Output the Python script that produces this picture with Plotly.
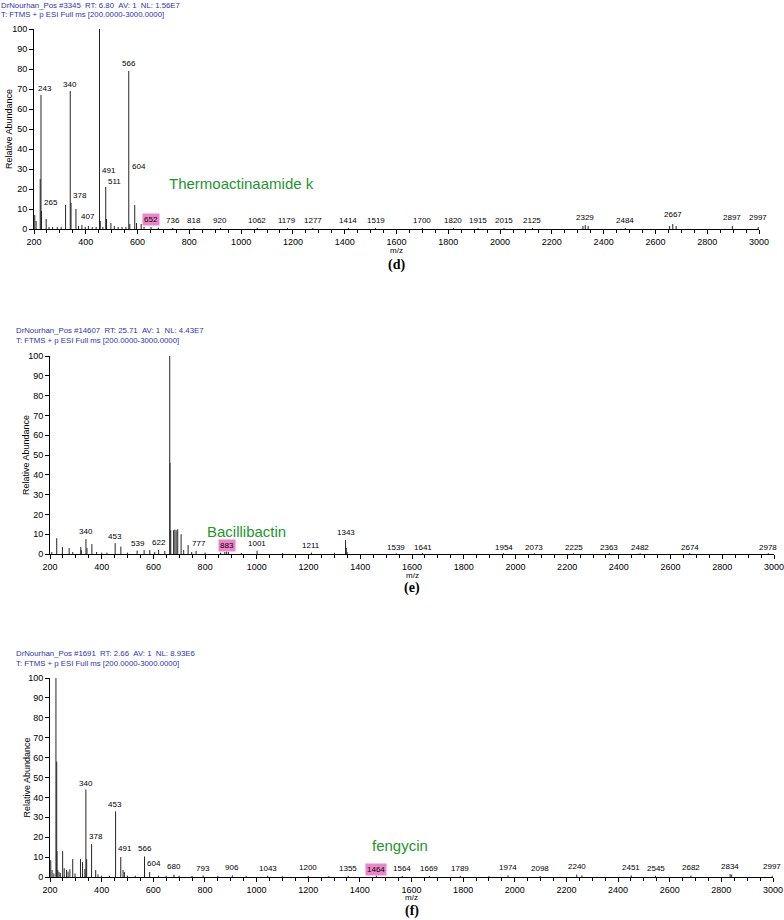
import plotly.graph_objects as go

W, H = 784, 920

# ---------------- data ----------------
# Panel (d)
d_mz = [203, 208, 224, 227, 229, 247, 258, 272, 290, 305, 322, 340, 343, 362, 372, 385, 398, 410, 425, 440,
        453, 456, 466, 477, 480, 497, 510, 525, 540, 555, 566, 570, 589, 596, 614, 625, 652, 680, 736, 818,
        920, 1062, 1179, 1277, 1414, 1519, 1700, 1820, 1915, 2015, 2125, 2320, 2329, 2340, 2484, 2655, 2667,
        2680, 2897, 2997]
d_int = [7, 4, 25, 67, 9, 5, 1, 1, 1, 1, 12, 69, 13, 10, 1.5, 2, 1, 1.5, 1, 1,
         100, 4, 1, 21, 5, 3, 1.5, 1, 1, 1, 79, 2.5, 12, 3, 2.5, 1, 1, 0.7, 0.5, 0.5,
         0.5, 0.5, 0.5, 0.5, 0.5, 0.5, 0.5, 0.5, 0.5, 0.5, 0.5, 1.5, 2, 1.5, 0.5, 1.5, 2.5,
         1.5, 1.5, 1]
d_labels = [243, 265, 340, 378, 407, 453, 491, 511, 566, 604, 652, 736, 818, 920, 1062, 1179, 1277, 1414,
            1519, 1700, 1820, 1915, 2015, 2125, 2329, 2484, 2667, 2897, 2997]
d_label_y = [67.5, 10.3, 69.5, 14, 3.5, 101, 26.5, 21, 80, 28.6, 1.5, 1.5, 1.5, 1.5, 1.5, 1.5, 1.5, 1.5,
             1.5, 1.5, 1.5, 1.5, 1.5, 1.5, 3, 1.5, 4.5, 3, 3]
d_highlight = 652
d_header = ["DrNourhan_Pos #3345\u00a0\u00a0RT: 6.80\u00a0\u00a0AV: 1\u00a0\u00a0NL: 1.56E7",
            "T: FTMS + p ESI Full ms [200.0000-3000.0000]"]
d_compound = ("Thermoactinaamide k", 713, 23)

# Panel (e)
e_mz = [207, 226, 248, 274, 288, 319, 321, 339, 343, 362, 380, 400, 420, 452, 474, 500, 537, 564, 586, 605,
        620, 644, 663, 664, 667, 678, 683, 688, 694, 707, 717, 734, 748, 765, 800, 860, 876, 883, 890, 940,
        1001, 1100, 1211, 1300, 1343, 1346, 1349, 1539, 1641, 1954, 2073, 2225, 2363, 2482, 2674, 2978]
e_int = [1, 8, 3.5, 3, 1, 3.5, 2, 7.5, 3, 5, 1, 0.7, 0.7, 5.5, 3.7, 0.7, 1.7, 2, 2, 1,
         2, 1.5, 100, 46, 12, 12, 12.3, 12, 12.5, 10, 2, 4.5, 1, 1.6, 0.7, 0.7, 1, 1.2, 1, 0.5,
         1.7, 0.5, 0.7, 0.6, 7, 3, 1, 0.4, 0.4, 0.4, 0.4, 0.4, 0.4, 0.4, 0.4, 0.4]
e_labels = [340, 453, 539, 622, 663, 777, 883, 1001, 1211, 1343, 1539, 1641, 1954, 2073, 2225, 2363,
            2482, 2674, 2978]
e_label_y = [8.4, 6, 2.4, 3, 101, 2.5, 1, 2.7, 1.7, 8, 0.5, 0.5, 0.5, 0.5, 0.5, 0.5, 0.5, 0.5, 0.5]
e_highlight = 883
e_header = ["DrNourhan_Pos #14607\u00a0\u00a0RT: 25.71\u00a0\u00a0AV: 1\u00a0\u00a0NL: 4.43E7",
            "T: FTMS + p ESI Full ms [200.0000-3000.0000]"]
e_compound = ("Bacillibactin", 798, 11.3)

# Panel (f)
f_mz = [203, 208, 215, 223, 226, 227, 230, 235, 240, 249, 255, 264, 270, 277, 288, 297, 318, 326, 335, 339,
        342, 361, 377, 386, 400, 430, 454, 474, 483, 488, 500, 530, 566, 586, 620, 650, 680, 700, 750, 793,
        850, 906, 960, 1043, 1100, 1200, 1280, 1355, 1464, 1564, 1669, 1789, 1900, 1974, 2098, 2240, 2260,
        2451, 2545, 2682, 2834, 2840, 2997]
f_int = [8.5, 3.5, 1.8, 100, 58, 13, 3.5, 2.5, 2, 13, 4.4, 3.5, 2.7, 3.9, 9, 1.8, 9, 7.5, 4, 44,
         9, 16.5, 3.5, 1.3, 0.7, 0.7, 33, 10, 3.5, 2.5, 0.7, 0.7, 10.3, 2.5, 0.7, 0.6, 1.2, 0.6, 0.5, 0.8,
         0.5, 0.8, 0.5, 0.6, 0.4, 0.6, 0.4, 0.6, 0.8, 0.5, 0.5, 0.6, 0.4, 0.8, 0.5, 1.2, 0.8,
         0.8, 0.6, 0.8, 1.5, 1.2, 0.6]
f_labels = [340, 378, 453, 491, 566, 604, 680, 793, 906, 1043, 1200, 1355, 1464, 1564, 1669, 1789, 1974,
            2098, 2240, 2451, 2545, 2682, 2834, 2997]
f_label_y = [44.4, 17.5, 33.8, 11.4, 11.4, 4.2, 2.7, 1.5, 1.8, 1.5, 1.8, 1.5, 0.5, 1.5, 1.5, 1.5, 2.2,
             1.5, 2.6, 2.2, 1.5, 1.8, 2.5, 2.6]
f_highlight = 1464
f_header = ["DrNourhan_Pos #1691\u00a0\u00a0RT: 2.66\u00a0\u00a0AV: 1\u00a0\u00a0NL: 8.93E6",
            "T: FTMS + p ESI Full ms [200.0000-3000.0000]"]
f_compound = ("fengycin", 1441, 15.7)

x_ticks = list(range(200, 3001, 200))
y_ticks = list(range(0, 101, 10))

# ---------------- layout geometry (pixels) ----------------
panels = [
    dict(mz=d_mz, it=d_int, lab=d_labels, laby=d_label_y, hl=d_highlight, header=d_header,
         comp=d_compound, letter="(d)", x0=34, x1=759, ybot=229, ytop=29, hx=0, hy=5,
         ytitle_x=9, mz_y=250, letter_y=265),
    dict(mz=e_mz, it=e_int, lab=e_labels, laby=e_label_y, hl=e_highlight, header=e_header,
         comp=e_compound, letter="(e)", x0=50, x1=774, ybot=554, ytop=356, hx=15, hy=330,
         ytitle_x=26, mz_y=575, letter_y=588),
    dict(mz=f_mz, it=f_int, lab=f_labels, laby=f_label_y, hl=f_highlight, header=f_header,
         comp=f_compound, letter="(f)", x0=50, x1=773, ybot=877, ytop=678, hx=15, hy=653,
         ytitle_x=26, mz_y=897, letter_y=911),
]

FONT = "Liberation Sans, Arial, sans-serif"
BLUE = "#3030b8"
GREEN = "#22962e"
PINK = "#ee84c8"

fig = go.Figure()
annotations = []
layout_axes = {}

for i, p in enumerate(panels):
    n = "" if i == 0 else str(i + 1)
    xa, ya = "x" + n, "y" + n
    xs, ys = [], []
    for m, h in zip(p["mz"], p["it"]):
        xs += [m, m, None]
        ys += [0, h, None]
    fig.add_trace(go.Scatter(x=xs, y=ys, mode="lines", xaxis=xa, yaxis=ya,
                             line=dict(color="#262626", width=1), hoverinfo="skip",
                             showlegend=False, cliponaxis=False))

    layout_axes["xaxis" + n] = dict(
        domain=[p["x0"] / W, p["x1"] / W], anchor=ya, range=[200, 3000], automargin=False,
        tickvals=x_ticks, ticks="outside", ticklen=4, tickwidth=1, tickcolor="black",
        showline=True, linecolor="black", linewidth=1, showgrid=False, zeroline=False,
        ticklabeloverflow="allow",
        tickfont=dict(family=FONT, size=9, color="black"),
        minor=dict(dtick=50, tick0=200, ticks="outside", ticklen=2.5, tickcolor="black",
                   tickwidth=1, showgrid=False),
        fixedrange=True)
    layout_axes["yaxis" + n] = dict(
        domain=[1 - p["ybot"] / H, 1 - p["ytop"] / H], anchor=xa, range=[0, 100], automargin=False,
        tickvals=y_ticks, ticks="outside", ticklen=4, tickwidth=1, tickcolor="black",
        showline=True, linecolor="black", linewidth=1, showgrid=False, zeroline=False,
        ticklabeloverflow="allow",
        tickfont=dict(family=FONT, size=9, color="black"), fixedrange=True)

    # peak labels
    for v, ly in zip(p["lab"], p["laby"]):
        a = dict(x=v, y=ly, xref=xa, yref=ya, text=str(v), showarrow=False,
                 xanchor="center", yanchor="bottom", borderpad=0,
                 font=dict(family=FONT, size=8, color="black"))
        if v == p["hl"]:
            a["bgcolor"] = PINK
            a["borderpad"] = 1
        annotations.append(a)

    # compound name
    cname, cx, cy = p["comp"]
    annotations.append(dict(x=cx, y=cy, xref=xa, yref=ya, text=cname, showarrow=False,
                            xanchor="left", yanchor="middle",
                            font=dict(family=FONT, size=15, color=GREEN)))

    # header lines
    for k, line in enumerate(p["header"]):
        annotations.append(dict(x=p["hx"] / W, y=1 - (p["hy"] + 10 * k) / H, xref="paper",
                                yref="paper", text=line, showarrow=False, xanchor="left",
                                yanchor="middle", borderpad=0,
                                font=dict(family=FONT, size=7.8, color=BLUE)))

    # y axis title
    annotations.append(dict(x=p["ytitle_x"] / W, y=1 - ((p["ybot"] + p["ytop"]) / 2) / H,
                            xref="paper", yref="paper", text="Relative Abundance",
                            showarrow=False, textangle=-90, xanchor="center", yanchor="middle",
                            font=dict(family=FONT, size=9, color="black")))
    # x axis title
    annotations.append(dict(x=((p["x0"] + p["x1"]) / 2) / W, y=1 - p["mz_y"] / H, xref="paper",
                            yref="paper", text="m/z", showarrow=False, xanchor="center",
                            yanchor="middle", borderpad=0,
                            font=dict(family=FONT, size=8, color="black")))
    # panel letter
    annotations.append(dict(x=((p["x0"] + p["x1"]) / 2) / W, y=1 - p["letter_y"] / H,
                            xref="paper", yref="paper", text="<b>" + p["letter"] + "</b>",
                            showarrow=False, xanchor="center", yanchor="middle", borderpad=0,
                            font=dict(family="Liberation Serif, Times New Roman, serif", size=14,
                                      color="black")))

fig.update_layout(width=W, height=H, margin=dict(l=0, r=0, t=0, b=0, autoexpand=False),
                  paper_bgcolor="white", plot_bgcolor="white",
                  annotations=annotations, showlegend=False, **layout_axes)

fig.write_html("out.html", config={"displayModeBar": False},
               post_script="document.body.style.margin='0';document.body.style.overflow='hidden';")
